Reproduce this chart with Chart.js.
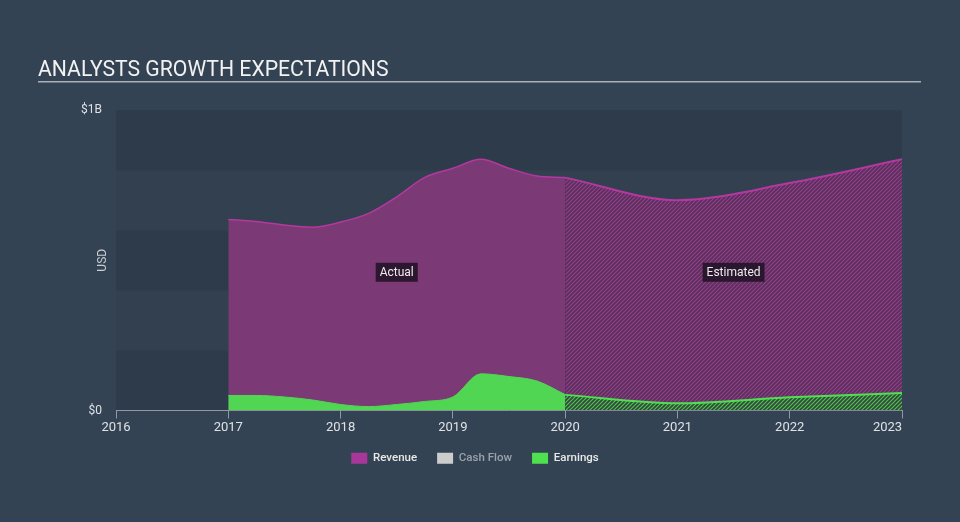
<!DOCTYPE html>
<html>
<head>
<meta charset="utf-8">
<title>Analysts growth expectations</title>
<script src="https://cdn.jsdelivr.net/npm/chart.js@4/dist/chart.umd.min.js"></script>
<style>
    html, body { margin: 0; padding: 0; background: #344353; }
    #wrap { width: 960px; height: 522px; position: relative; }
</style>
</head>
<body>
<div id="wrap"><canvas id="myChart" width="960" height="522"></canvas></div>
<script>
"use strict"

// values in billions of USD, x in years
const actualYears = [2017, 2017.25, 2017.5, 2017.75, 2018, 2018.25, 2018.5, 2018.75, 2019, 2019.25, 2019.5, 2019.75, 2020];
const revenueActual = [0.636, 0.629, 0.617, 0.610, 0.627, 0.656, 0.711, 0.776, 0.806, 0.836, 0.806, 0.780, 0.775];
const earningsActual = [0.050, 0.050, 0.045, 0.035, 0.020, 0.013, 0.020, 0.030, 0.045, 0.122, 0.113, 0.098, 0.053];

const estimateYears = [2020, 2021, 2022, 2023];
const revenueEstimate = [0.775, 0.700, 0.757, 0.836];
const earningsEstimate = [0.052, 0.024, 0.044, 0.058];

const yearTicks = [2016, 2017, 2018, 2019, 2020, 2021, 2022, 2023];
const seriesNames = ["Revenue", "Cash Flow", "Earnings"];
const periodLabels = ["Actual", "Estimated"];

const FONT = "Roboto, 'Open Sans', sans-serif";


class GrowthChart{
    canvas;
    ctx;
    myChart;
    purpleHatch;
    greenHatch;

    constructor(canvas){
        this.canvas = canvas;
        this.ctx = canvas.getContext("2d");
        this.purpleHatch = this.makeHatch("#5a2f5c", "#93408a", 4);
        this.greenHatch = this.makeHatch("#33463c", "#4fc452", 4);
    }

    makeHatch(bg, line, size){
        const c = document.createElement("canvas");
        c.width = size;
        c.height = size;
        const g = c.getContext("2d");
        g.fillStyle = bg;
        g.fillRect(0, 0, size, size);
        g.strokeStyle = line;
        g.lineWidth = 1.2;
        g.beginPath();
        g.moveTo(0, size); g.lineTo(size, 0);
        g.moveTo(-size / 2, size / 2); g.lineTo(size / 2, -size / 2);
        g.moveTo(size / 2, size * 1.5); g.lineTo(size * 1.5, size / 2);
        g.stroke();
        return this.ctx.createPattern(c, "repeat");
    }

    points(xs, ys){
        return xs.map((x, i) => ({ x: x, y: ys[i] }));
    }

    buildDatasets(){
        const base = { pointRadius: 0, pointHoverRadius: 0, cubicInterpolationMode: "monotone", fill: "origin" };
        return [
            { ...base, label: "Revenue", data: this.points(actualYears, revenueActual),
              backgroundColor: "#7b3a76", borderColor: "#b4389f", borderWidth: 1.5, order: 2 },
            { ...base, label: "Cash Flow", data: [], backgroundColor: "#cccccc", borderColor: "#cccccc", order: 3 },
            { ...base, label: "Earnings", data: this.points(actualYears, earningsActual),
              backgroundColor: "#51d653", borderColor: "#51d653", borderWidth: 1, order: 0 },
            { ...base, label: "Revenue est", data: this.points(estimateYears, revenueEstimate),
              backgroundColor: this.purpleHatch, borderColor: "#b4389f", borderWidth: 2, order: 2 },
            { ...base, label: "Earnings est", data: this.points(estimateYears, earningsEstimate),
              backgroundColor: this.greenHatch, borderColor: "#4fe04f", borderWidth: 2, order: 0 }
        ];
    }

    // page background, title, plot bands
    backgroundPlugin(){
        return {
            id: "pageBackground",
            afterLayout(chart){
                // legend sits a little right of the plot centre
                chart.legend.left += 24;
                chart.legend.right += 24;
            },
            beforeDraw(chart){
                const c = chart.ctx;
                const area = chart.chartArea;
                const y = chart.scales.y;
                c.save();
                c.fillStyle = "#344353";
                c.fillRect(0, 0, chart.width, chart.height);

                for(let v = 0; v < 1; v += 0.2){
                    const top = y.getPixelForValue(v + 0.2);
                    const bottom = y.getPixelForValue(v);
                    const idx = Math.round(v / 0.2);
                    c.fillStyle = idx % 2 === 0 ? "#2e3b4a" : "#324050";
                    c.fillRect(area.left, top, area.right - area.left, bottom - top);
                }

                c.fillStyle = "#f2f2f2";
                c.font = "21.2px " + FONT;
                c.textBaseline = "alphabetic";
                c.textAlign = "left";
                c.fillText("ANALYSTS GROWTH EXPECTATIONS", 38, 76);
                c.fillStyle = "#a9b0b8";
                c.fillRect(38, 81, 883, 1.5);

                c.translate(103, (area.top + area.bottom) / 2);
                c.rotate(-Math.PI / 2);
                c.fillStyle = "#c9ced3";
                c.font = "12px " + FONT;
                c.textAlign = "center";
                c.textBaseline = "middle";
                c.fillText("USD", 0, 0);
                c.restore();
            }
        };
    }

    periodPlugin(){
        return {
            id: "periodLabels",
            afterDatasetsDraw(chart){
                const c = chart.ctx;
                const x = chart.scales.x;
                const y = chart.scales.y;
                const ly = y.getPixelForValue(0.46);
                const spans = [[actualYears[0], actualYears[actualYears.length - 1]],
                               [estimateYears[0], estimateYears[estimateYears.length - 1]]];
                c.save();
                c.font = "12px " + FONT;
                c.textAlign = "center";
                c.textBaseline = "middle";
                spans.forEach((s, i) => {
                    const cx = (x.getPixelForValue(s[0]) + x.getPixelForValue(s[1])) / 2;
                    const w = c.measureText(periodLabels[i]).width + 8;
                    c.fillStyle = "rgba(32, 18, 36, 0.85)";
                    c.fillRect(cx - w / 2, ly - 9.5, w, 19);
                    c.fillStyle = "#ececec";
                    c.fillText(periodLabels[i], cx, ly + 0.5);
                });
                c.restore();
            }
        };
    }

    initChart(){
        const legendBoxes = ["#a9379a", "#cccccc", "#4fe04f"];
        const legendText = ["#e9e9e9", "#9aa2aa", "#e9e9e9"];
        const lastYear = yearTicks[yearTicks.length - 1];

        this.myChart = new Chart(this.ctx, {
            type: "line",
            data: { datasets: this.buildDatasets() },
            options: {
                responsive: false,
                animation: false,
                layout: { padding: { top: 110, right: 58, bottom: 48, left: 0 } },
                plugins: {
                    tooltip: { enabled: false },
                    legend: {
                        position: "bottom",
                        labels: {
                            boxWidth: 16,
                            boxHeight: 11,
                            padding: 20,
                            font: { family: FONT, size: 11.5, weight: "500" },
                            generateLabels: () => seriesNames.map((name, i) => ({
                                text: name,
                                fillStyle: legendBoxes[i],
                                strokeStyle: legendBoxes[i],
                                lineWidth: 0,
                                fontColor: legendText[i],
                                hidden: false,
                                datasetIndex: i
                            }))
                        }
                    }
                },
                scales: {
                    x: {
                        type: "linear",
                        min: yearTicks[0],
                        max: lastYear,
                        afterBuildTicks: (scale) => { scale.ticks = yearTicks.map(v => ({ value: v })); },
                        afterFit: (scale) => { scale.height = 22; },
                        grid: { drawOnChartArea: false, drawTicks: true, tickLength: 8, color: "#8e99a6" },
                        border: { display: true, color: "#8e99a6", width: 1 },
                        ticks: {
                            color: "#dfe2e5",
                            padding: 1,
                            maxRotation: 0,
                            font: { family: FONT, size: 13 },
                            // last label ends at its tick, like the original
                            callback: (v) => v === lastYear ? String(v) + " ".repeat(9) : String(v)
                        }
                    },
                    y: {
                        min: 0,
                        max: 1,
                        afterFit: (scale) => { scale.width = 116; },
                        grid: { display: false, drawTicks: false },
                        border: { display: false },
                        ticks: {
                            stepSize: 0.2,
                            padding: 14,
                            color: "#dfe2e5",
                            font: { family: FONT, size: 12 },
                            callback: (v) => v === 0 ? "$0" : (v === 1 ? "$1B" : "")
                        }
                    }
                }
            },
            plugins: [this.backgroundPlugin(), this.periodPlugin()]
        });
        console.log("initChart completed");
    }
}

const page = new GrowthChart(document.getElementById("myChart"));
page.initChart();
</script>
</body>
</html>
